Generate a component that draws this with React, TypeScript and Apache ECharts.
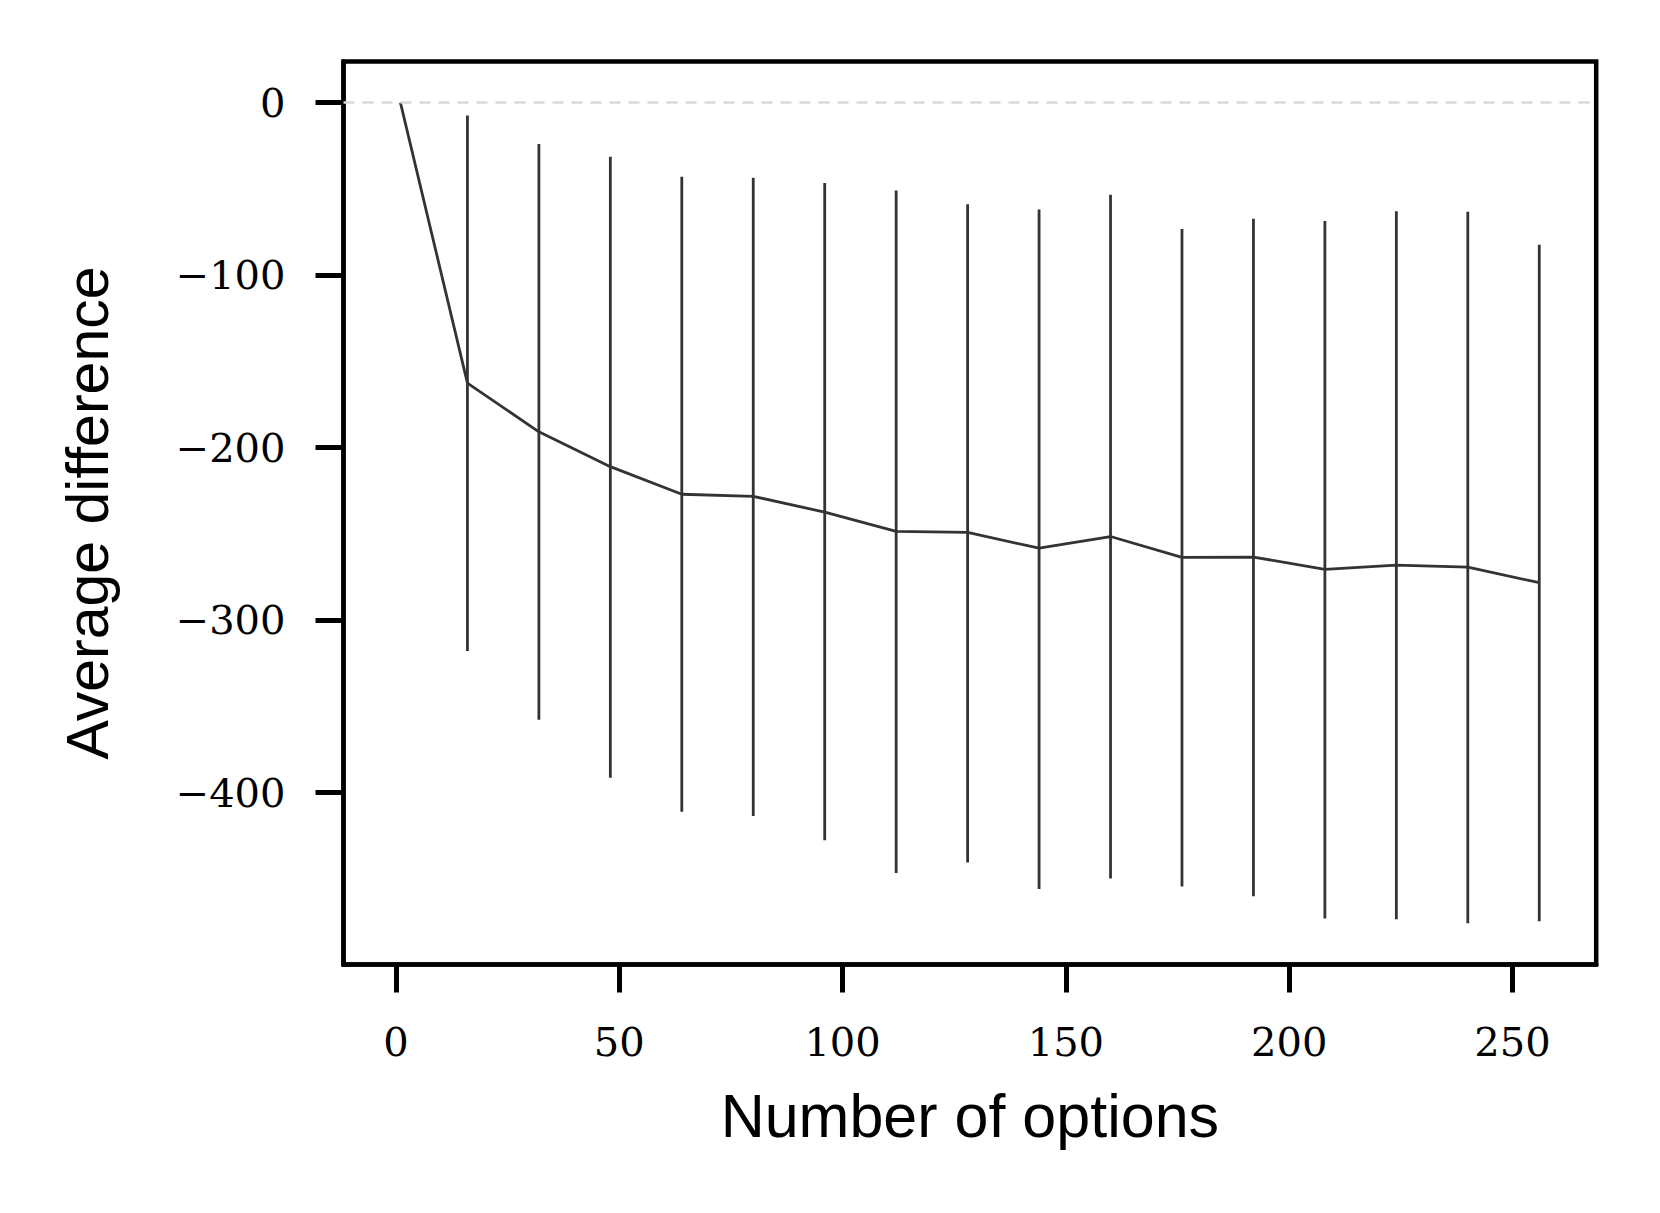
import React, { useEffect, useRef } from 'react';
import * as echarts from 'echarts';

const optionCounts = [1, 16, 32, 48, 64, 80, 96, 112, 128, 144, 160, 176, 192, 208, 224, 240, 256];
const meanDiff = [0, -162.6, -190.8, -211.0, -227.0, -228.2, -237.4, -248.5, -249.1, -258.3, -251.5, -263.6, -263.4, -270.5, -268.1, -269.3, -278.3];
const lowerBound = [0, -317.8, -357.7, -391.4, -411.0, -413.5, -427.6, -446.6, -440.5, -455.8, -449.8, -454.4, -460.0, -473.0, -473.3, -475.7, -474.5];
const upperBound = [0, -7.4, -23.9, -31.3, -42.9, -43.6, -46.6, -50.9, -58.9, -62.0, -53.4, -73.2, -67.3, -68.6, -63.0, -63.2, -82.3];
const xTicks = [0, 50, 100, 150, 200, 250];
const yTicks = [-400, -300, -200, -100, 0];

export default function App() {
  const ref = useRef<HTMLDivElement>(null);
  useEffect(() => {
    const chart = echarts.init(ref.current as HTMLDivElement, null, { renderer: 'svg' });
    const errData = optionCounts.map((x, i) => [x, lowerBound[i], upperBound[i]]);
    const meanData = optionCounts.map((x, i) => [x, meanDiff[i]]);
    const serif = 'DejaVu Serif';
    const sans = 'Liberation Sans';
    chart.setOption({
      animation: false,
      backgroundColor: '#ffffff',
      grid: {
        left: 343.5,
        right: 63.8,
        top: 61.6,
        bottom: 248.5,
        show: true,
        borderColor: '#000',
        borderWidth: 4.5,
        backgroundColor: 'transparent',
      },
      xAxis: {
        type: 'value',
        min: -11.75,
        max: 268.75,
        name: 'Number of options',
        nameLocation: 'middle',
        nameGap: 121,
        nameTextStyle: { fontFamily: sans, fontSize: 61, color: '#000' },
        axisLine: { show: true, onZero: false, lineStyle: { color: '#000', width: 4.5 } },
        axisTick: { show: true, inside: false, length: 28, customValues: xTicks, lineStyle: { color: '#000', width: 5 } },
        axisLabel: {
          show: true,
          customValues: xTicks,
          margin: 57,
          fontFamily: serif,
          fontSize: 40,
          color: '#000',
          formatter: (v: number) => String(v),
        },
        splitLine: { show: false },
      },
      yAxis: {
        type: 'value',
        min: -499.6,
        max: 23.8,
        name: 'Average difference',
        nameLocation: 'middle',
        nameGap: 226,
        nameRotate: 90,
        nameTextStyle: { fontFamily: sans, fontSize: 59, color: '#000' },
        axisLine: { show: true, onZero: false, lineStyle: { color: '#000', width: 4.5 } },
        axisTick: { show: true, inside: false, length: 28, customValues: yTicks, lineStyle: { color: '#000', width: 5 } },
        axisLabel: {
          show: true,
          customValues: yTicks,
          margin: 58,
          fontFamily: serif,
          fontSize: 40,
          color: '#000',
          formatter: (v: number) => (v < 0 ? '\u2212' + Math.abs(v) : String(v)),
        },
        splitLine: { show: false },
      },
      series: [
        {
          type: 'line',
          data: [],
          silent: true,
          markLine: {
            silent: true,
            symbol: 'none',
            label: { show: false },
            lineStyle: { color: '#d9d9d9', type: [11, 8], width: 2.5 },
            data: [{ yAxis: 0 }],
          },
          z: 1,
        },
        {
          type: 'custom',
          silent: true,
          z: 3,
          renderItem: (params: any, api: any) => {
            const x = api.value(0);
            const lo = api.coord([x, api.value(1)]);
            const hi = api.coord([x, api.value(2)]);
            return {
              type: 'line',
              shape: { x1: lo[0], y1: lo[1], x2: hi[0], y2: hi[1] },
              style: { stroke: '#333333', lineWidth: 2.8 },
            };
          },
          encode: { x: 0, y: [1, 2] },
          data: errData,
        },
        {
          type: 'line',
          silent: true,
          z: 4,
          data: meanData,
          symbol: 'none',
          showSymbol: false,
          lineStyle: { color: '#333333', width: 2.8 },
        },
      ],
    });
    return () => chart.dispose();
  }, []);
  return (
    <div
      ref={ref}
      style={{ position: 'absolute', left: 0, top: 0, width: 1660, height: 1213, background: '#fff' }}
    />
  );
}
